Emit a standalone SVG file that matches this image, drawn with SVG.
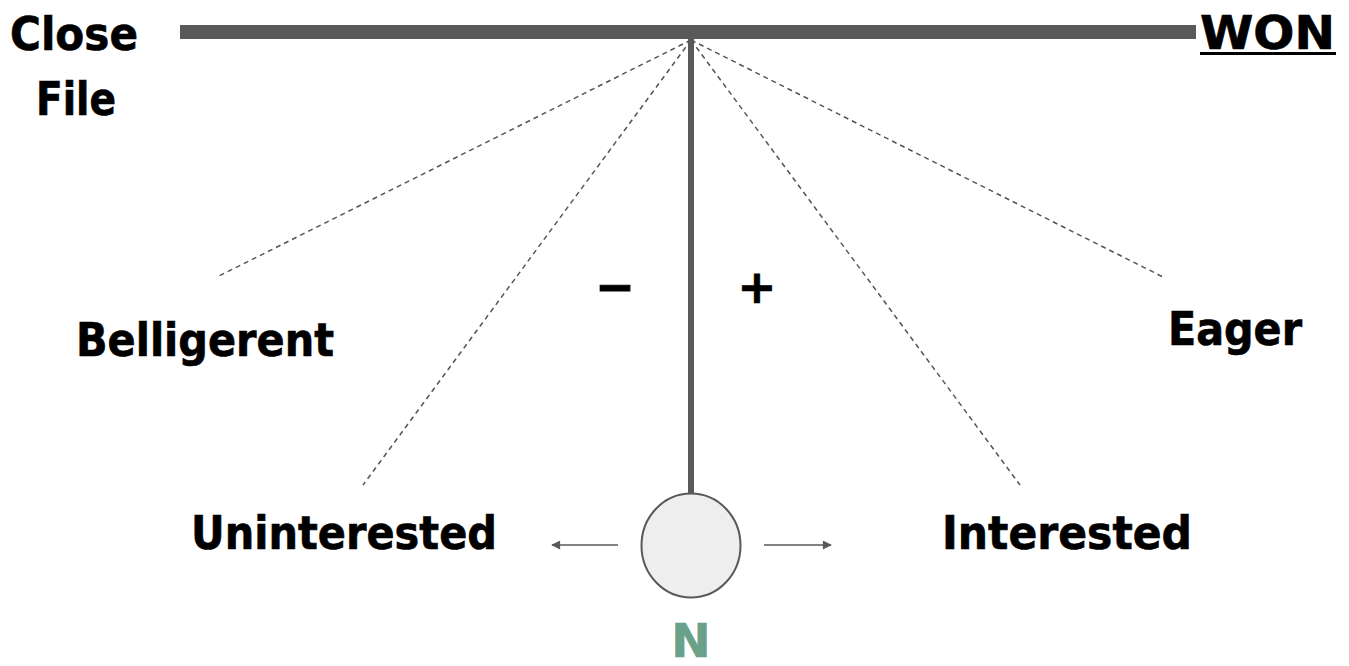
<svg xmlns="http://www.w3.org/2000/svg" width="1349" height="666" viewBox="0 0 1349 666">
  <style>
    .lbl { font-family: "DejaVu Sans", Verdana, sans-serif; font-weight: bold; font-size: 47px; fill: #000; stroke: #000; stroke-width: 0.7; }
    .dash { stroke: #555555; stroke-width: 1.5; stroke-dasharray: 5 4; fill: none; }
    .arr { stroke: #595959; stroke-width: 1.6; fill: none; }
  </style>
  <defs>
    <marker id="ah" viewBox="0 0 10 10" refX="9" refY="5" markerWidth="10" markerHeight="9" markerUnits="userSpaceOnUse" orient="auto">
      <path d="M0,0 L10,5 L0,10 z" fill="#595959"/>
    </marker>
  </defs>
  <rect width="1349" height="666" fill="#ffffff"/>

  <g id="connectors">
    <line class="dash" x1="691" y1="40" x2="217" y2="277"/>
    <line class="dash" x1="691" y1="40" x2="363" y2="485"/>
    <line class="dash" x1="691" y1="40" x2="1020" y2="485"/>
    <line class="dash" x1="691" y1="40" x2="1165" y2="278"/>
    <line class="arr" x1="618" y1="545" x2="552" y2="545" marker-end="url(#ah)"/>
    <line class="arr" x1="764" y1="545" x2="831" y2="545" marker-end="url(#ah)"/>
  </g>

  <g id="bar">
    <rect x="180" y="25" width="1016" height="14" fill="#595959"/>
  </g>
  <g id="rod">
    <rect x="688" y="35" width="6" height="460" fill="#595959"/>
  </g>
  <g id="bob">
    <ellipse cx="691" cy="545.5" rx="49.5" ry="52" fill="#eeeeee" stroke="#595959" stroke-width="2"/>
  </g>

  <g id="close-file">
    <text class="lbl" x="10" y="50" textLength="128" lengthAdjust="spacingAndGlyphs">Close</text>
    <text class="lbl" x="36" y="115" textLength="80" lengthAdjust="spacingAndGlyphs">File</text>
  </g>
  <g id="won">
    <text class="lbl" x="1200" y="49" textLength="135" lengthAdjust="spacingAndGlyphs">WON</text>
    <rect x="1200" y="52" width="136" height="3" fill="#000"/>
  </g>
  <g id="belligerent">
    <text class="lbl" x="76" y="356" textLength="258" lengthAdjust="spacingAndGlyphs">Belligerent</text>
  </g>
  <g id="eager">
    <text class="lbl" x="1168" y="345" textLength="134" lengthAdjust="spacingAndGlyphs">Eager</text>
  </g>
  <g id="uninterested">
    <text class="lbl" x="191" y="549" textLength="306" lengthAdjust="spacingAndGlyphs">Uninterested</text>
  </g>
  <g id="interested">
    <text class="lbl" x="942" y="549" textLength="250" lengthAdjust="spacingAndGlyphs">Interested</text>
  </g>
  <g id="minus">
    <text class="lbl" transform="translate(615,301) scale(1.6,1)" x="0" y="0" text-anchor="middle" style="stroke-width:0.8">–</text>
  </g>
  <g id="plus">
    <text class="lbl" x="757" y="303" text-anchor="middle" font-size="38">+</text>
  </g>
  <g id="n-label">
    <text class="lbl" x="691" y="657" text-anchor="middle" font-size="44" style="fill:#6aa18b;stroke:#6aa18b">N</text>
  </g>
</svg>
